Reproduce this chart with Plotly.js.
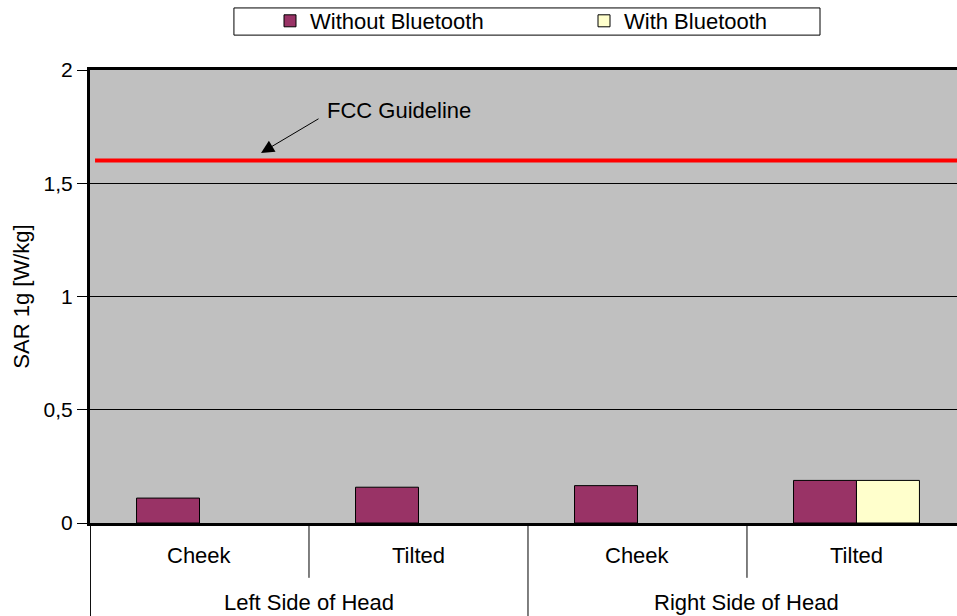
<!DOCTYPE html>
<html>
<head>
<meta charset="utf-8">
<script src="https://cdn.plot.ly/plotly-3.0.1.min.js"></script>
<style>html,body{margin:0;padding:0;background:#fff;overflow:hidden;}#chart{width:957px;height:616px;}</style>
</head>
<body>
<div id="chart"></div>
<script>
// ---- data ----
var positions = ["Cheek", "Tilted", "Cheek", "Tilted"];
var sides = ["Left Side of Head", "Right Side of Head"];
var withoutBluetooth = [0.110, 0.158, 0.165, 0.188];
var withBluetooth = [null, null, null, 0.188];
var seriesNames = ["Without Bluetooth", "With Bluetooth"];
var yTickVals = [0, 0.5, 1, 1.5, 2];
var fccLimit = 1.6;
var fccLabel = "FCC Guideline";
var yTitle = "SAR 1g [W/kg]";

var FONT = "Liberation Sans, Arial, sans-serif";
var idx = positions.map(function (_, i) { return i; });

var traces = [
  { type: "bar", name: seriesNames[0], x: idx, y: withoutBluetooth,
    marker: { color: "#993366", line: { color: "#000", width: 1 } }, hoverinfo: "y" },
  { type: "bar", name: seriesNames[1], x: idx, y: withBluetooth,
    marker: { color: "#FFFFCC", line: { color: "#000", width: 1 } }, hoverinfo: "y" }
];

var annotations = [];
positions.forEach(function (p, i) {
  annotations.push({ text: p, x: i, xref: "x", y: -0.0728, yref: "paper",
    showarrow: false, xanchor: "center", yanchor: "middle",
    font: { family: FONT, size: 22, color: "#000" } });
});
sides.forEach(function (s, k) {
  annotations.push({ text: s, x: 2 * k + 0.5, xref: "x", y: -0.1744, yref: "paper",
    showarrow: false, xanchor: "center", yanchor: "middle",
    font: { family: FONT, size: 22, color: "#000" } });
});
annotations.push({ text: fccLabel, x: 0.575, xref: "x", y: 1.823, yref: "y",
  showarrow: false, xanchor: "left", yanchor: "middle",
  font: { family: FONT, size: 22, color: "#000" } });
annotations.push({ text: "", x: 0.281, xref: "x", y: 1.634, yref: "y",
  showarrow: true, ax: 59, ay: -35, arrowhead: 2, arrowsize: 2.6, arrowwidth: 1, arrowcolor: "#000" });

var shapes = [];
// FCC guideline line
shapes.push({ type: "line", xref: "x", yref: "y", x0: -0.477, x1: 3.6, y0: fccLimit, y1: fccLimit,
  line: { color: "#ff0000", width: 4 } });
// inner dividers
[0.5, 2.5].forEach(function (v) {
  shapes.push({ type: "line", xref: "x", yref: "paper", x0: v, x1: v, y0: 0, y1: -0.121,
    line: { color: "#000", width: 1 } });
});
// outer dividers
[-0.498, 1.5].forEach(function (v) {
  shapes.push({ type: "line", xref: "x", yref: "paper", x0: v, x1: v, y0: 0, y1: -0.21,
    line: { color: "#000", width: 1 } });
});
// legend frame
shapes.push({ type: "rect", xref: "paper", yref: "paper", x0: 0.166, x1: 0.842, y0: 1.077, y1: 1.137,
  line: { color: "#000", width: 1 }, fillcolor: "rgba(0,0,0,0)" });

var layout = {
  width: 957, height: 616,
  margin: { l: 90, r: 0, t: 70, b: 93, pad: 0 },
  paper_bgcolor: "#ffffff",
  plot_bgcolor: "#c0c0c0",
  separators: ", ",
  font: { family: FONT, size: 20, color: "#000" },
  barmode: "group",
  bargap: 0.425,
  bargroupgap: 0,
  showlegend: true,
  legend: { orientation: "h", xref: "container", yref: "container", x: 270 / 957, y: 1,
    xanchor: "left", yanchor: "top", bgcolor: "rgba(0,0,0,0)", borderwidth: 0,
    entrywidth: 269, entrywidthmode: "pixels", traceorder: "normal",
    font: { family: FONT, size: 22, color: "#000" } },
  xaxis: {
    range: [-0.5, 3.459], fixedrange: true,
    showticklabels: false, ticks: "", showgrid: false, zeroline: false,
    showline: true, linecolor: "#000", linewidth: 3, mirror: true
  },
  yaxis: {
    range: [0, 2], tickvals: yTickVals, tickformat: ".1~f",
    ticks: "outside", ticklen: 10, tickwidth: 1, tickcolor: "#000",
    showgrid: true, gridcolor: "#000", gridwidth: 1, zeroline: false,
    showline: true, linecolor: "#000", linewidth: 3,
    tickfont: { family: FONT, size: 21, color: "#000" },
    title: { text: yTitle, standoff: 8, font: { family: FONT, size: 22, color: "#000" } },
    automargin: false
  },
  annotations: annotations,
  shapes: shapes
};

Plotly.newPlot("chart", traces, layout, { displayModeBar: false, staticPlot: true });
</script>
</body>
</html>
